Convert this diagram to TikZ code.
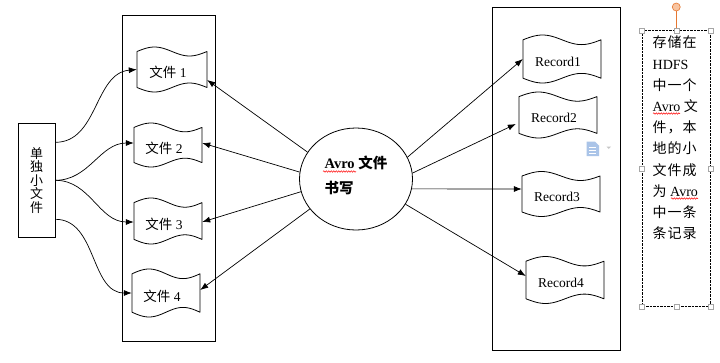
\documentclass[tikz,border=0pt]{standalone}
\usepackage{fontspec}
\setmainfont{Liberation Serif}
\newfontfamily\cjk{Noto Sans CJK SC}
\newfontfamily\cjkn[LetterSpace=7]{Noto Sans CJK SC}
\usetikzlibrary{shapes.geometric,arrows.meta,decorations.pathmorphing,calc}
\definecolor{rotfill}{RGB}{248,196,160}
\definecolor{rotline}{RGB}{230,120,50}
\definecolor{pasteblue}{RGB}{170,196,232}
\tikzset{
  docline/.style={draw=black, line width=0.8pt, fill=white, line join=round},
  docbox/.style={inner sep=0pt, draw=none},
  doctext/.style={inner sep=0pt, font=\fontsize{13.5}{15}\selectfont},
  arr/.style={-{Latex[length=8pt,width=6pt]}, line width=0.7pt},
  frame/.style={draw, line width=0.9pt, inner sep=0pt},
  handle/.style={draw=gray!70, fill=white, minimum size=5pt, inner sep=0pt, line width=0.5pt},
  squig/.style={draw=red, line width=0.5pt, decorate, decoration={snake, amplitude=0.7pt, segment length=2.5pt}},
}
% name, cx, cy (pixels, y down), w, h, text
\newcommand\wdoc[6]{%
  \node[docbox, minimum width=#4pt, minimum height=#5pt] (#1) at (#2,-#3) {};
  \draw[docline]
    plot[domain=0:1, samples=41, variable=\t]
      ({#2-#4/2+#4*\t}, {-#3+#5/2-#5/10+#5/10*sin(360*\t)})
    -- plot[domain=1:0, samples=41, variable=\t]
      ({#2-#4/2+#4*\t}, {-#3-#5/2+#5/10-#5/10*sin(360*\t)})
    -- cycle;
  \node[doctext] (#1-t) at ([shift={(-4pt,-3pt)}]#1.center) {#6};
}
\begin{document}
\begin{tikzpicture}[x=1pt,y=1pt]
\useasboundingbox (0,0) rectangle (720,-362);
\fill[white] (0,0) rectangle (720,-362);

% containers
\node[frame, minimum width=93pt, minimum height=326pt] (leftbox) at (169,-178) {};
\node[frame, minimum width=127.5pt, minimum height=342.5pt] (rightbox) at (556.25,-178.75) {};

% single small files box
\node[draw, line width=0.8pt, minimum width=37pt, minimum height=114pt, inner sep=0pt,
      align=center, font=\cjk\fontsize{13}{13.6}\selectfont] (single) at (36.5,-180.3)
      {单\\独\\小\\文\\件};

% file documents
\wdoc{file1}{172}{69.5}{70}{45}{{\cjk 文件} 1}
\wdoc{file2}{168}{145}{68}{44}{{\cjk 文件} 2}
\wdoc{file3}{168}{221}{68}{46}{{\cjk 文件} 3}
\wdoc{file4}{166}{293}{68}{48}{{\cjk 文件} 4}

% records
\wdoc{rec1}{562}{59}{78}{48}{Record1}
\wdoc{rec2}{558}{115}{78}{46}{Record2}
\wdoc{rec3}{561}{194}{78}{45}{Record3}
\wdoc{rec4}{565}{280}{78}{47}{Record4}

% writer ellipse
\node[ellipse, draw, line width=0.8pt, minimum width=113pt, minimum height=102pt, inner sep=0pt] (writer) at (356,-179) {};
\node[inner sep=0pt, align=left, font=\bfseries\fontsize{14.5}{25}\selectfont] (writer-t) at ([yshift=4pt]writer.center)
      {Avro {\cjk 文件}\\{\cjk 书写}};
\draw[squig] (323,-171.5) -- (356,-171.5);

% curves from the single box
\draw[arr] ([yshift=38pt]single.east) to[out=0,in=185] (file1.west);
\draw[arr] (single.east) to[out=0,in=180] ([yshift=2pt]file2.west);
\draw[arr] (single.east) to[out=0,in=180] ([yshift=-1pt]file3.west);
\draw[arr] ([yshift=-39pt]single.east) to[out=0,in=180] (file4.west);

% writer to files
\draw[arr] (writer.151) -- ([yshift=-10.5pt]file1.east);
\draw[arr] (writer.173) -- ([yshift=2pt]file2.east);
\draw[arr] (writer.193) -- ([yshift=-1pt]file3.east);
\draw[arr] (writer.213) -- ([yshift=3pt]file4.east);

% writer to records
\draw[arr] (writer.23) -- (rec1.west);
\draw[arr] (writer.6) -- ([shift={(-3pt,-9pt)}]rec2.west);
\draw[arr] (writer.350) -- ([yshift=5pt]rec3.west);
\draw[arr] (writer.333) -- ([yshift=4pt]rec4.west);

% paste icon
\fill[pasteblue] (586.7,-141.7) -- (595,-141.7) -- (599,-145.5) -- (599,-156) -- (586.7,-156) -- cycle;
\draw[white, line width=0.7pt] (589,-147) -- (596,-147) (589,-150) -- (596,-150) (589,-153) -- (596,-153);
\fill[gray!45] (606.5,-146.5) -- (611,-146.5) -- (608.75,-149) -- cycle;

% note box
\node[draw, dash pattern=on 2.5pt off 1pt, line width=0.8pt, minimum width=67.5pt, minimum height=275.5pt, inner sep=0pt]
      (note) at (676.25,-168.5) {};
\node[anchor=north west, inner sep=0pt, align=left, font=\fontsize{14}{21.2}\selectfont] (notetext) at (652.5,-36)
  {{\cjkn 存储在}\\HDFS\\{\cjkn 中一个}\\Avro {\cjkn 文}\\{\cjkn 件，本}\\{\cjkn 地的小}\\{\cjkn 文件成}\\{\cjkn 为} Avro\\{\cjkn 中一条}\\{\cjkn 条记录}};
\draw[squig] (653,-113.5) -- (680,-113.5);
\draw[squig] (671,-198.5) -- (698,-198.5);

% selection handles
\node[circle, draw=rotline, fill=rotfill, minimum size=8pt, inner sep=0pt, line width=0.6pt] (rot) at (676.25,-7) {};
\draw[rotline, line width=0.7pt] (rot) -- (note.north);
\node[handle] (hnw) at (note.north west) {};
\node[handle] (hn) at (note.north) {};
\node[handle] (hne) at (note.north east) {};
\node[handle] (he) at (note.east) {};
\node[handle] (hse) at (note.south east) {};
\node[handle] (hs) at (note.south) {};
\node[handle] (hsw) at (note.south west) {};
\node[handle] (hw) at (note.west) {};
\end{tikzpicture}
\end{document}
